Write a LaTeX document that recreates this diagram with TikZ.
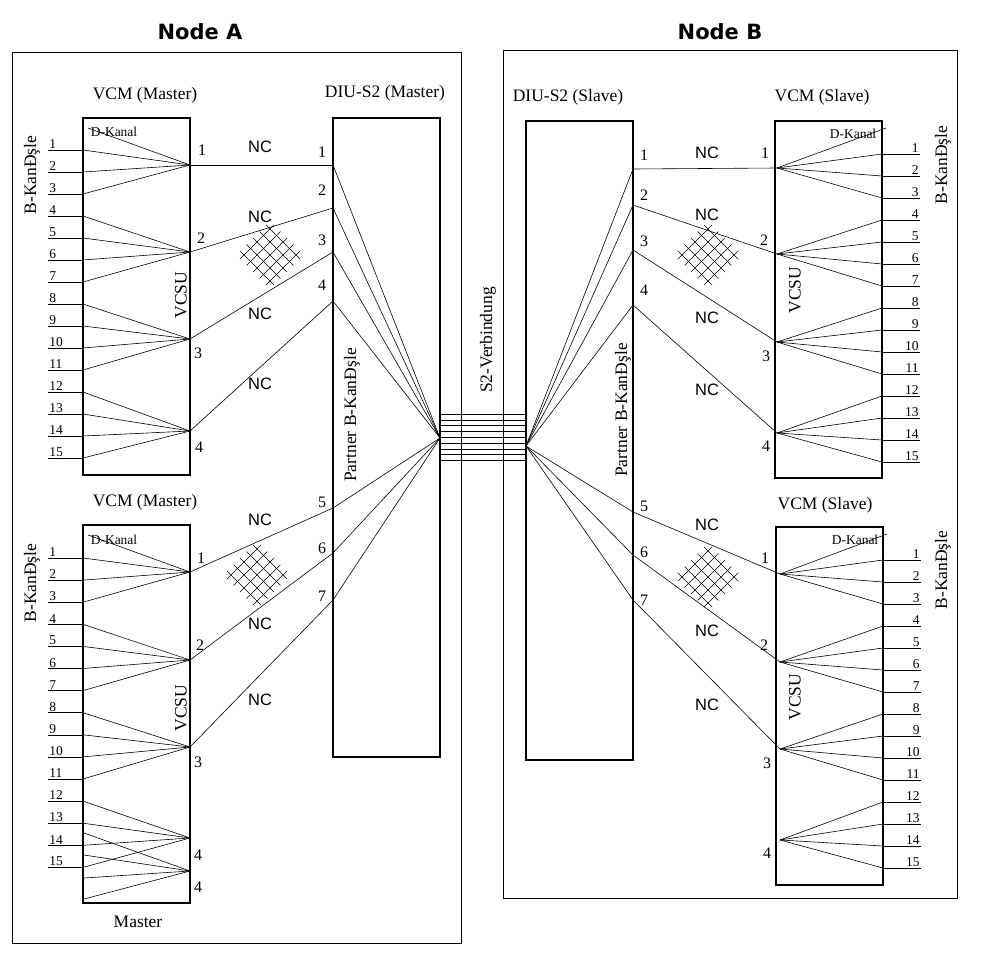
\documentclass[tikz,border=0pt]{standalone}
\usepackage{fontspec}
\setmainfont{Liberation Serif}
\newfontfamily\arialfont{Liberation Sans}
\newfontfamily\titlefont{DejaVu Sans}

\begin{document}
\begin{tikzpicture}[x=1pt,y=-1pt,
  box/.style={draw,line width=2pt},
  frame/.style={draw,line width=1pt},
  wire/.style={line width=0.6pt},
  num/.style={font=\fontsize{13.5}{13.5}\selectfont,inner sep=1pt},
  lbl/.style={font=\fontsize{17.5}{17.5}\selectfont},
  port/.style={font=\fontsize{16}{16}\selectfont},
  nc/.style={font=\arialfont\fontsize{16.5}{16.5}\selectfont},
  ttl/.style={font=\titlefont\bfseries\fontsize{21}{21}\selectfont}]
\useasboundingbox (0,0) rectangle (988,969);
% node frames and titles
\draw[frame] (12,52) rectangle (461,943);
\draw[frame] (503,50) rectangle (957,898);
\node[ttl] (titleA) at (200,32) {Node A};
\node[ttl] (titleB) at (720,32) {Node B};
% modules
\draw[box] (83,118) rectangle (190,475);
\draw[box] (83,525) rectangle (190,903);
\draw[box] (333,118) rectangle (440,757);
\draw[box] (526,121) rectangle (633,760);
\draw[box] (775,121) rectangle (882,478);
\draw[box] (776,527) rectangle (883,885);
\node[lbl] (vcmA1) at (145,95) {VCM (Master)};
\node[lbl] (vcmA2) at (145,502) {VCM (Master)};
\node[lbl] (diuA) at (385,93) {DIU-S2 (Master)};
\node[lbl] (diuB) at (568,97) {DIU-S2 (Slave)};
\node[lbl] (vcmB1) at (822,97) {VCM (Slave)};
\node[lbl] (vcmB2) at (825,505) {VCM (Slave)};
\node[lbl] (master) at (138,922) {Master};
\node[lbl,rotate=90] (bkA1) at (32,175) {B-KanĐşle};
\node[lbl,rotate=90] (bkA2) at (32,583) {B-KanĐşle};
\node[lbl,rotate=90] (bkB1) at (943,165) {B-KanĐşle};
\node[lbl,rotate=90] (bkB2) at (943,570) {B-KanĐşle};
\node[lbl,rotate=90] (vcsuA1) at (181,295) {VCSU};
\node[lbl,rotate=90] (vcsuA2) at (181,708) {VCSU};
\node[lbl,rotate=90] (vcsuB1) at (795,290) {VCSU};
\node[lbl,rotate=90] (vcsuB2) at (795,697) {VCSU};
\node[lbl,rotate=90] (partA) at (352,415) {Partner B-KanĐşle};
\node[lbl,rotate=90] (partB) at (623,410) {Partner B-KanĐşle};
\node[lbl,rotate=90] (s2) at (488,340) {S2-Verbindung};
\node[num] (dkA1) at (114,132) {D-Kanal};
\node[num] (dkA2) at (114,540) {D-Kanal};
\node[num] (dkB1) at (853,134) {D-Kanal};
\node[num] (dkB2) at (855,540) {D-Kanal};
% hubs
\coordinate (ah1) at (190,165); \coordinate (ah2) at (190,252);
\coordinate (ah3) at (190,339); \coordinate (ah4) at (190,431);
\coordinate (bh1) at (190,572); \coordinate (bh2) at (190,660);
\coordinate (bh3) at (190,747); \coordinate (bh4) at (190,838);
\coordinate (bh5) at (190,871);
\coordinate (ch1) at (777,168); \coordinate (ch2) at (777,254);
\coordinate (ch3) at (777,342); \coordinate (ch4) at (777,433);
\coordinate (dh1) at (780,574); \coordinate (dh2) at (780,662);
\coordinate (dh3) at (780,749); \coordinate (dh4) at (780,840);
\foreach \x/\y/\t in {202/150/1,201/238/2,198/353/3,199/447/4,
  201/558/1,200/645/2,198/762/3,198/855/4,198/887/4,
  765/153/1,764/240/2,766/356/3,766/446/4,
  765/558/1,764/645/2,767/763/3,767/853/4}
  \node[port] at (\x,\y) {\t};
% D channel
\draw[wire] (88,128) -- (ah1);
\draw[wire] (88,535) -- (bh1);
\draw[wire] (886,128) -- (ch1);
\draw[wire] (887,534) -- (dh1);
% B channels, left modules
\foreach \k/\h in {1/1,2/1,3/1,4/2,5/2,6/2,7/2,8/3,9/3,10/3,11/3,12/4,13/4,14/4,15/4} {
  \coordinate (a\k) at (83,{150+(\k-1)*22});
  \draw[wire] (a\k) -- ++(-35,0) node[num,anchor=south west] {\k};
  \draw[wire] (a\k) -- (ah\h);
  \coordinate (b\k) at (83,{558+(\k-1)*22.1});
  \draw[wire] (b\k) -- ++(-35,0) node[num,anchor=south west] {\k};
  \draw[wire] (b\k) -- (bh\h);
}
\foreach \y in {833,855,878,899} \draw[wire] (84,\y) -- (bh5);
% B channels, right modules
\foreach \k/\h in {1/1,2/1,3/1,4/2,5/2,6/2,7/2,8/3,9/3,10/3,11/3,12/4,13/4,14/4,15/4} {
  \coordinate (c\k) at (882,{154+(\k-1)*22});
  \draw[wire] (c\k) -- ++(38,0) node[num,anchor=south east] {\k};
  \draw[wire] (c\k) -- (ch\h);
  \coordinate (d\k) at (883,{560+(\k-1)*22});
  \draw[wire] (d\k) -- ++(38,0) node[num,anchor=south east] {\k};
  \draw[wire] (d\k) -- (dh\h);
}
% DIU ports and S2 bundle
\coordinate (lf) at (440,438);
\coordinate (rf) at (526,446);
\foreach \i in {0,...,8} \draw[wire] (440,{414+\i*5.8}) -- (526,{414+\i*5.8});
\foreach \k/\y/\ly in {1/165/152,2/208/190,3/252/240,4/301/285,5/508/502,6/553/548,7/600/596} {
  \coordinate (p\k) at (333,\y);
  \node[port] at (322,\ly) {\k};
  \draw[wire] (p\k) -- (lf);
}
\foreach \k/\y/\ly in {1/169/155,2/205/195,3/250/241,4/305/290,5/512/506,6/555/552,7/600/600} {
  \coordinate (q\k) at (633,\y);
  \node[port] at (644,\ly) {\k};
  \draw[wire] (q\k) -- (rf);
}
% links VCM - DIU
\foreach \h/\p in {ah1/p1,ah2/p2,ah3/p3,ah4/p4,bh1/p5,bh2/p6,bh3/p7,
  ch1/q1,ch2/q2,ch3/q3,ch4/q4,dh1/q5,dh2/q6,dh3/q7}
  \draw[wire] (\h) -- (\p);
\foreach \x/\y in {260/147,260/217,260/314,260/384,260/520,260/624,260/700,
  707/153,707/215,707/318,707/390,707/525,707/631,707/705}
  \node[nc] at (\x,\y) {NC};
% crossings
\foreach \cx/\cy in {270/255,257/575,708/255,708/577} {
  \begin{scope}[shift={(\cx,\cy)}]
    \foreach \i in {-2,...,2} {
      \draw[wire] (\i*6.5-17,-\i*6.5-17) -- (\i*6.5+17,-\i*6.5+17);
      \draw[wire] (\i*6.5-17,\i*6.5+17) -- (\i*6.5+17,\i*6.5-17);
    }
  \end{scope}
}
\end{tikzpicture}
\end{document}
